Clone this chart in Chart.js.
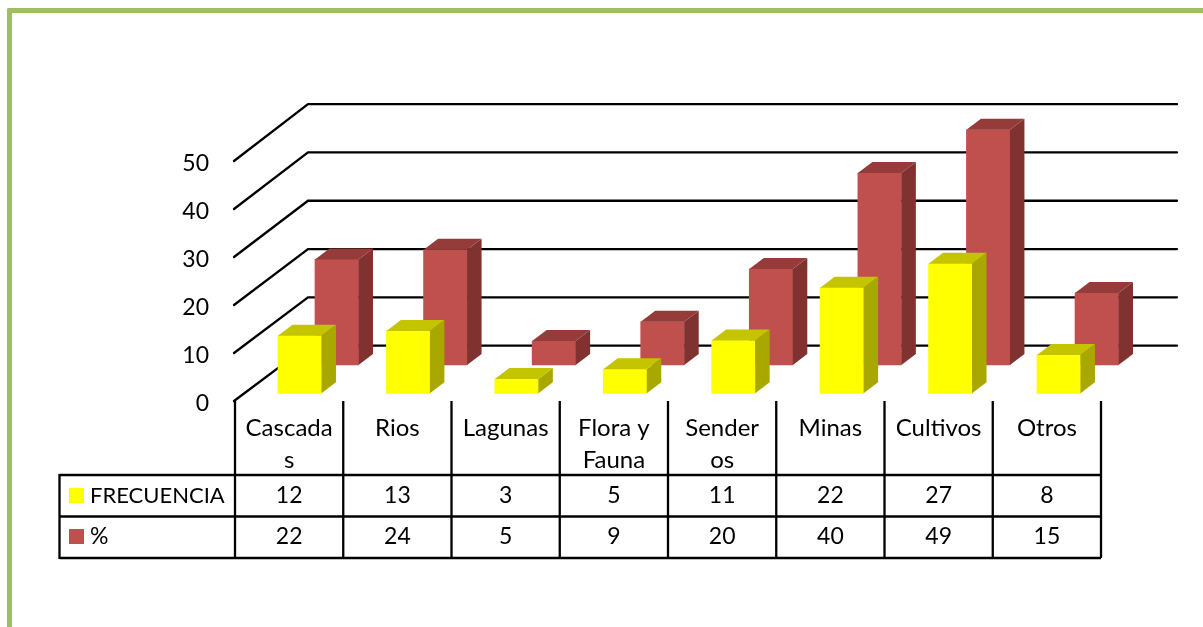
<!DOCTYPE html>
<html lang="es">
<head>
<meta charset="utf-8">
<title>Frecuencia y porcentaje</title>
<style>
html,body{margin:0;padding:0;background:#fff;overflow:hidden}
#frame{position:absolute;left:7px;top:8px;width:1196px;height:619px;box-sizing:border-box;border-left:5px solid #A0C060;border-top:5px solid #A0C060;border-top-left-radius:2px}
canvas{position:absolute;left:0;top:0}
</style>
<script src="https://cdn.jsdelivr.net/npm/chart.js@4"></script>
</head>
<body>
<div id="frame"></div>
<canvas id="c" width="1203" height="627"></canvas>
<script>
const categories = ["Cascadas", "Rios", "Lagunas", "Flora y Fauna", "Senderos", "Minas", "Cultivos", "Otros"];
const categoryLines = [["Cascada", "s"], ["Rios"], ["Lagunas"], ["Flora y", "Fauna"], ["Sender", "os"], ["Minas"], ["Cultivos"], ["Otros"]];
const frecuencia = [12, 13, 3, 5, 11, 22, 27, 8];
const porcentaje = [22, 24, 5, 9, 20, 40, 49, 15];
const gridValues = [0, 10, 20, 30, 40, 50];
const seriesNames = ["FRECUENCIA", "%"];

const FAMILY = 'Lato, Carlito, sans-serif';
const LINE_WIDTH = 2.3;
const toPoints = arr => arr.map((v, i) => ({x: i, y: v}));

const scene = {
  id: 'scene',
  beforeDatasetsDraw(chart) {
    const {ctx, scales} = chart;
    ctx.save();
    ctx.strokeStyle = '#000';
    ctx.lineWidth = LINE_WIDTH;
    ctx.lineCap = 'round';
    const backLeft = 308, backRight = 1177;
    gridValues.forEach(v => {
      ctx.beginPath();
      ctx.moveTo(scales.y.left + scales.y.width - 1, scales.y.getPixelForValue(v));
      ctx.lineTo(backLeft, scales.yBack.getPixelForValue(v));
      ctx.lineTo(backRight, scales.yBack.getPixelForValue(v));
      ctx.stroke();
    });
    ctx.restore();
  },
  afterDatasetDraw(chart, args) {
    const {ctx} = chart;
    const ds = chart.data.datasets[args.index];
    const dx = 14.5, dy = 11;
    ctx.save();
    args.meta.data.forEach(bar => {
      const l = bar.x - bar.width / 2, r = bar.x + bar.width / 2, t = bar.y, b = bar.base;
      ctx.fillStyle = ds.sideColor;
      ctx.beginPath();
      ctx.moveTo(r, t); ctx.lineTo(r + dx, t - dy); ctx.lineTo(r + dx, b - dy); ctx.lineTo(r, b);
      ctx.closePath(); ctx.fill();
      ctx.fillStyle = ds.topColor;
      ctx.beginPath();
      ctx.moveTo(l, t); ctx.lineTo(l + dx, t - dy); ctx.lineTo(r + dx, t - dy); ctx.lineTo(r, t);
      ctx.closePath(); ctx.fill();
    });
    ctx.restore();
  },
  afterDraw(chart) {
    const {ctx, scales} = chart;
    const xT = scales.xTable;
    const axisBottom = 401, row1 = 475, row2 = 516.5, row3 = 558, tableLeft = 59.5;
    const right = xT.getPixelForValue(categories.length);
    ctx.save();
    ctx.strokeStyle = '#000';
    ctx.lineWidth = LINE_WIDTH;
    ctx.beginPath();
    for (let i = 0; i <= categories.length; i++) {
      const x = xT.getPixelForValue(i);
      ctx.moveTo(x, axisBottom); ctx.lineTo(x, row3);
    }
    [row1, row2, row3].forEach(y => { ctx.moveTo(tableLeft, y); ctx.lineTo(right, y); });
    ctx.moveTo(tableLeft, row1 - 1); ctx.lineTo(tableLeft, row3 + 1);
    ctx.stroke();

    ctx.fillStyle = '#000';
    ctx.textBaseline = 'middle';
    ctx.textAlign = 'center';
    categoryLines.forEach((lines, i) => {
      const cx = xT.getPixelForValue(i + 0.5);
      ctx.font = '24px ' + FAMILY;
      lines.forEach((txt, k) => ctx.fillText(txt, cx, 428 + k * 32));
      ctx.font = '23px ' + FAMILY;
      ctx.fillText(String(frecuencia[i]), cx, 496);
      ctx.fillText(String(porcentaje[i]), cx, 537);
    });
    ctx.textAlign = 'left';
    ctx.font = '22px ' + FAMILY;
    ctx.fillText(seriesNames[0], 90, 496);
    ctx.font = '23px ' + FAMILY;
    ctx.fillText(seriesNames[1], 90, 537);
    ctx.fillStyle = chart.data.datasets[0].backgroundColor;
    ctx.fillRect(69, 488, 15, 15);
    ctx.fillStyle = chart.data.datasets[1].backgroundColor;
    ctx.fillRect(69, 529, 15, 15);
    ctx.restore();
  }
};

new Chart(document.getElementById('c'), {
  type: 'bar',
  data: {
    labels: categories,
    datasets: [
      {label: seriesNames[0], data: toPoints(frecuencia), xAxisID: 'xFront', yAxisID: 'yFront', grouped: false,
       backgroundColor: '#FFFF00', sideColor: '#A8A800', topColor: '#C4C400', barThickness: 43.5, clip: false},
      {label: seriesNames[1], data: toPoints(porcentaje), xAxisID: 'xRear', yAxisID: 'yRear', grouped: false,
       backgroundColor: '#C0504D', sideColor: '#7F3230', topColor: '#953B39', barThickness: 43.5, clip: false}
    ]
  },
  options: {
    responsive: false,
    animation: false,
    devicePixelRatio: 1,
    layout: {padding: {top: 65, right: 26, bottom: 226, left: 0}},
    plugins: {legend: {display: false}, tooltip: {enabled: false}, title: {display: false}},
    scales: {
      y: {
        position: 'left', min: 0, max: 70,
        grid: {display: false, drawTicks: false}, border: {display: false},
        ticks: {stepSize: 10, padding: 26, labelOffset: 3, color: '#000', font: {family: FAMILY, size: 23}},
        afterBuildTicks(s) { s.ticks = s.ticks.filter(t => gridValues.includes(t.value)); },
        afterFit(s) { s.width = 235; }
      },
      yFront: {display: false, min: -1.604, max: 68.396},
      yRear: {display: false, min: -7.5, max: 62.5},
      yBack: {display: false, min: -11.45, max: 58.1},
      xFront: {type: 'linear', display: false, offset: false, min: -0.597, max: 8.091},
      xRear: {type: 'linear', display: false, offset: false, min: -0.937, max: 7.739},
      xTable: {type: 'linear', display: false, offset: false, min: 0, max: 8.702}
    }
  },
  plugins: [scene]
});
</script>
</body>
</html>
